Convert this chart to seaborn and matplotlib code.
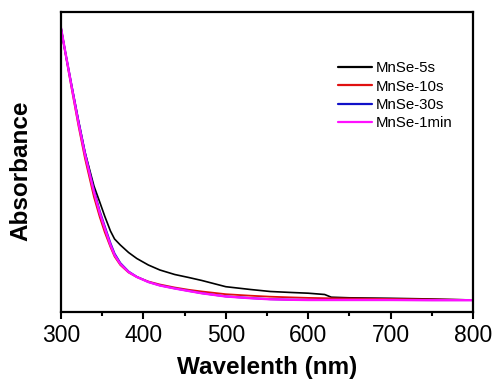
import numpy as np
import pandas as pd
import matplotlib
matplotlib.use("Agg")
import matplotlib.pyplot as plt
import seaborn as sns
from matplotlib.ticker import MultipleLocator

wavelength = [300, 305, 313, 321, 329, 340, 347, 353, 360, 365, 372, 382, 392, 406, 420,
              438, 455, 471, 500, 530, 554, 580, 600, 620, 628, 650, 700, 750, 800]
mnse_5s = [2.84, 2.61, 2.26, 1.92, 1.60, 1.26, 1.10, 0.96, 0.81, 0.73, 0.67, 0.595, 0.535, 0.47, 0.42,
           0.375, 0.345, 0.315, 0.253, 0.225, 0.205, 0.195, 0.188, 0.175, 0.148, 0.142, 0.137, 0.13, 0.12]
mnse_10s = [2.84, 2.60, 2.23, 1.87, 1.54, 1.15, 0.95, 0.80, 0.65, 0.555, 0.47, 0.395, 0.35, 0.305, 0.275,
            0.245, 0.222, 0.205, 0.178, 0.163, 0.153, 0.146, 0.141, 0.138, 0.137, 0.135, 0.13, 0.125, 0.12]
mnse_30s = [2.84, 2.61, 2.26, 1.92, 1.60, 1.22, 1.01, 0.86, 0.69, 0.585, 0.49, 0.405, 0.352, 0.30, 0.266,
            0.236, 0.211, 0.188, 0.156, 0.139, 0.128, 0.123, 0.121, 0.121, 0.121, 0.121, 0.12, 0.119, 0.119]
mnse_1min = [2.84, 2.61, 2.25, 1.90, 1.58, 1.20, 0.99, 0.84, 0.67, 0.57, 0.48, 0.40, 0.35, 0.30, 0.265,
             0.235, 0.21, 0.187, 0.155, 0.138, 0.127, 0.122, 0.12, 0.12, 0.12, 0.12, 0.12, 0.118, 0.118]
labels = ["MnSe-5s", "MnSe-10s", "MnSe-30s", "MnSe-1min"]
colors = ["#000000", "#e01010", "#1010c8", "#ff10ff"]

frames = []
for lab, vals in zip(labels, [mnse_5s, mnse_10s, mnse_30s, mnse_1min]):
    frames.append(pd.DataFrame({"Wavelength": wavelength, "Absorbance": vals, "Sample": lab}))
df = pd.concat(frames, ignore_index=True)

sns.set_theme(style="ticks")
plt.rcParams["font.family"] = ["Liberation Sans", "DejaVu Sans"]
plt.rcParams["text.color"] = "black"
plt.rcParams["axes.labelcolor"] = "black"
plt.rcParams["xtick.color"] = "black"
plt.rcParams["ytick.color"] = "black"

fig = plt.figure(figsize=(4.95, 3.89), dpi=100)
ax = fig.add_axes([61/495, 77/389, 412/495, 300/389])

sns.lineplot(data=df, x="Wavelength", y="Absorbance", hue="Sample", hue_order=labels,
             palette=colors, linewidth=1.3, ax=ax, errorbar=None, sort=False)
for ln, lw in zip(ax.lines, [1.2, 1.3, 1.4, 1.7]):
    ln.set_linewidth(lw)

ax.set_xlim(300, 800)
ax.set_ylim(0, 3.0)
ax.xaxis.set_major_locator(MultipleLocator(100))
ax.xaxis.set_minor_locator(MultipleLocator(50))
ax.set_yticks([])
ax.tick_params(axis="x", which="major", direction="out", length=5, width=1.5,
               labelsize=16.5, pad=4, colors="black")
ax.tick_params(axis="x", which="minor", direction="out", length=3, width=1.5)
for sp in ax.spines.values():
    sp.set_visible(True)
    sp.set_linewidth(1.6)
    sp.set_color("black")

ax.set_xlabel("Wavelenth (nm)", fontsize=17.5, fontweight="bold", labelpad=6, color="black")
ax.set_ylabel("Absorbance", fontsize=17.5, fontweight="bold", color="black")
ax.yaxis.set_label_coords(-0.07, 0.47)

leg = ax.legend(loc="upper left", bbox_to_anchor=(0.672, 0.835), frameon=False,
                fontsize=10.8, handlelength=2.3, handletextpad=0.25, labelspacing=0.28,
                borderpad=0, borderaxespad=0)
for t in leg.get_texts():
    t.set_color("black")
for h in leg.get_lines():
    h.set_linewidth(1.6)

fig.savefig("out.png", dpi=100)
